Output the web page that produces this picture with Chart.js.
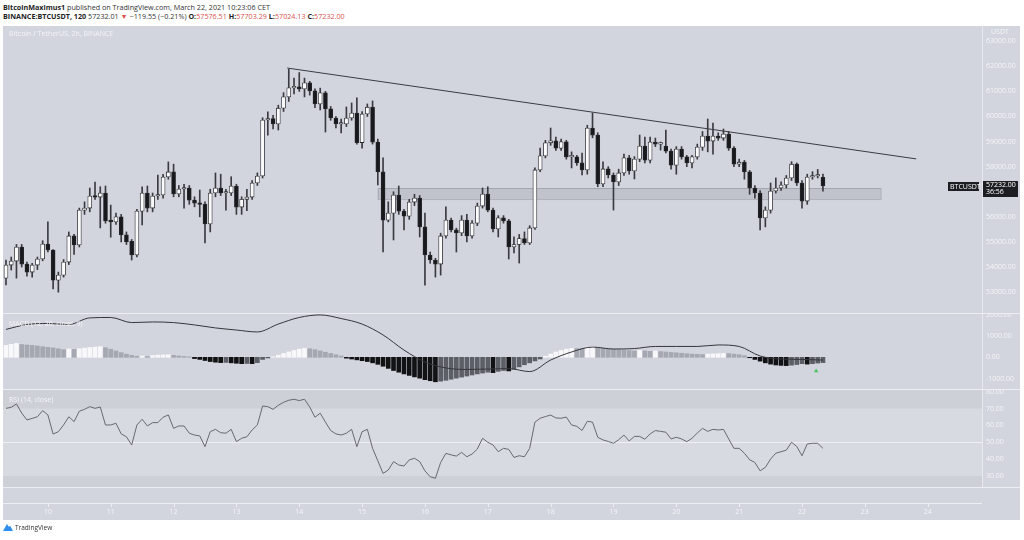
<!DOCTYPE html>
<html>
<head>
<meta charset="utf-8">
<script src="https://cdn.jsdelivr.net/npm/chart.js@4.4.1/dist/chart.umd.min.js"></script>
<style>
  body { margin: 0; width: 1024px; height: 540px; overflow: hidden; background: #fff; position: relative; font-family: 'Open Sans', sans-serif; }
  .hdr { position: absolute; left: 3px; font-size: 7.2px; color: #333; white-space: nowrap; }
  .hdr b { color: #222; }
  .red { color: #d9534f; }
  #board { position: absolute; left: 3px; top: 26px; width: 1017px; height: 494px; background: #d2d5dd; }
  #board canvas { position: absolute; left: 0; }
  .sep { position: absolute; left: 0; width: 1017px; height: 1px; background: #eceef2; }
  .lbl { position: absolute; font-size: 7px; color: #f3f4f7; white-space: nowrap; }
  #logo { position: absolute; left: 3px; top: 523px; font-size: 6.5px; color: #333; display: flex; align-items: center; gap: 2px; }
</style>
</head>
<body>
<div class="hdr" style="top:2px"><b>BitcoinMaximus1</b> published on TradingView.com, March 22, 2021 10:23:06 CET</div>
<div class="hdr" style="top:11px"><b>BINANCE:BTCUSDT, 120</b> 57232.01 <span class="red">▼</span> −119.55 (−0.21%) <b>O:</b><span class="red">57576.51</span> <b>H:</b><span class="red">57703.29</span> <b>L:</b><span class="red">57024.13</span> <b>C:</b><span class="red">57232.00</span></div>

<div id="board">
  <canvas id="price" width="1017" height="287" style="top:0"></canvas>
  <canvas id="macd" width="1017" height="76" style="top:287px"></canvas>
  <canvas id="rsi" width="1017" height="131" style="top:363px"></canvas>
  <div class="sep" style="top:287px"></div>
  <div class="sep" style="top:363px"></div>
  <div class="sep" style="top:461px"></div>
  <div class="sep" style="top:477px;width:979px"></div>
  <div class="lbl" style="left:6px;top:3px">Bitcoin / TetherUS, 2h, BINANCE</div>
  <div class="lbl" style="left:988px;top:1px">USDT</div>
  <div class="lbl" style="left:6px;top:293px">MACD (12, 26, close, 9)</div>
  <div class="lbl" style="left:6px;top:369px">RSI (14, close)</div>
</div>

<div id="logo">
  <svg width="10" height="9" viewBox="0 0 10 9"><path d="M0 8 L4 1 L6 4 L7 2.5 L10 8 Z" fill="#2d8ff0"/></svg>
  <span>TradingView</span>
</div>

<script>
// 2h candles, first one 9 Mar 08:00, last one 22 Mar 08:00
const open = [
  53560, 54080, 54240, 54800, 54120, 53800, 54080, 54320, 54920, 54680,
  53480, 53680, 54200, 55240, 54880, 56270, 56350, 56830, 56790, 56950,
  55870, 55800, 56000, 55280, 55030, 54480, 56230, 56950, 56350, 56830,
  56870, 57590, 57790, 56910, 57110, 57150, 56670, 56550, 56500, 55720,
  56950, 57150, 56950, 56950, 57230, 56390, 56700, 56790, 57350, 57630,
  59860, 59920, 59700, 60330, 60780, 61140, 61180, 61100, 61340, 61020,
  60500, 60940, 60300, 59940, 59700, 59700, 59940, 60140, 58960, 60100,
  60370, 58980, 57790, 55870, 56150, 56870, 56230, 56030, 56590, 56750,
  55600, 54480, 54280, 54120, 55240, 55870, 55480, 55360, 55870, 55240,
  55750, 56430, 56910, 56270, 55520, 55960, 55840, 54800, 54900, 55140,
  54960, 55560, 57870, 58430, 58950, 59030, 58740, 58990, 58390, 58390,
  58150, 57870, 59540, 59260, 57310, 57910, 57670, 57390, 57750, 58350,
  57830, 58300, 58820, 58260, 58980, 58900, 58820, 58620, 58060, 58700,
  58390, 58150, 58390, 58780, 59220, 59020, 59220, 59140, 59300, 58740,
  58100, 58180, 57790, 57150, 56950, 55960, 56270, 57030, 57150, 57270,
  57550, 58100, 57350, 56630, 57590, 57630, 57576.51
];
const high = [
  54280, 54400, 54900, 54900, 54200, 54150, 54400, 55050, 55800, 54700,
  53800, 54300, 55400, 55300, 56350, 56600, 57150, 57390, 57200, 57230,
  56470, 56150, 56100, 55400, 55100, 56300, 57200, 57230, 56950, 57670,
  57700, 58190, 58100, 57250, 57300, 57250, 56800, 57070, 56600, 57100,
  57750, 57700, 57100, 57600, 57300, 56800, 57100, 57450, 57750, 59950,
  60190, 60050, 60450, 60950, 61890, 61530, 61750, 61530, 61400, 61100,
  61130, 61000, 60400, 60000, 59900, 60380, 60540, 60740, 60200, 60500,
  60620, 59100, 58350, 56600, 57000, 57230, 56300, 56700, 56900, 56850,
  56150, 54600, 54350, 55350, 56400, 55950, 55550, 56050, 56100, 55850,
  56550, 57150, 57200, 56350, 56050, 56050, 55900, 55200, 55300, 55400,
  55650, 57950, 58740, 59050, 59540, 59180, 59100, 59050, 58590, 58450,
  58540, 59650, 60140, 59350, 58190, 58000, 57750, 57900, 58500, 58450,
  58400, 59260, 59180, 59180, 59140, 58980, 59460, 58700, 58800, 58800,
  58450, 58450, 58900, 59400, 59900, 59740, 59350, 59500, 59400, 58800,
  58300, 58250, 57850, 57250, 57050, 56400, 57350, 57550, 57400, 57650,
  58200, 58150, 57450, 57700, 57800, 57890, 57703.29
];
const low = [
  53290, 53880, 53560, 54000, 53640, 53600, 53900, 54250, 54600, 53130,
  53000, 53600, 54100, 54500, 54800, 56100, 56200, 56700, 55560, 55750,
  55190, 55700, 55000, 54900, 54280, 54400, 55680, 56200, 56200, 56700,
  56750, 57500, 56800, 56800, 56350, 56500, 56400, 56000, 54960, 55400,
  56800, 56850, 56270, 56850, 56100, 56100, 56250, 56700, 57250, 57550,
  59260, 59500, 59460, 60200, 60600, 60900, 61000, 60780, 60850, 60350,
  60260, 59380, 59850, 59540, 59340, 59600, 59850, 58900, 58740, 60000,
  58900, 57270, 54600, 55800, 55080, 56100, 55480, 55900, 56450, 55200,
  53280, 54150, 53600, 53680, 55150, 55400, 54600, 55250, 55000, 55150,
  55650, 56350, 56200, 55400, 55200, 55750, 54320, 54560, 54160, 54900,
  54900, 55500, 57800, 58350, 58850, 58650, 58650, 58300, 57950, 58050,
  57670, 57700, 59150, 57200, 57200, 57550, 56270, 57250, 57650, 57700,
  57510, 58200, 58150, 58150, 58800, 58660, 58550, 57900, 57700, 58300,
  58000, 57950, 58300, 58650, 58590, 58500, 59050, 59050, 58650, 58000,
  58000, 57500, 56900, 56750, 55480, 55600, 56150, 56950, 57050, 57150,
  57450, 57250, 56350, 56500, 57500, 57550, 57024.13
];
const close = [
  54080, 54240, 54800, 54120, 53800, 54080, 54320, 54920, 54680, 53480,
  53680, 54200, 55240, 54880, 56270, 56350, 56830, 56790, 56950, 55840,
  55800, 56000, 55280, 55000, 54480, 56230, 56950, 56350, 56830, 56870,
  57590, 57790, 56910, 57110, 57150, 56670, 56550, 56500, 55720, 56950,
  57150, 56950, 56960, 57230, 56390, 56700, 56790, 57350, 57630, 59860,
  59920, 59700, 60330, 60780, 61140, 61180, 61100, 61340, 61020, 60500,
  60940, 60300, 59940, 59700, 59710, 59940, 60140, 58960, 60100, 60370,
  58980, 57790, 55870, 56150, 56870, 56230, 56030, 56590, 56750, 55600,
  54480, 54280, 54120, 55240, 55870, 55480, 55360, 55870, 55240, 55750,
  56430, 56910, 56270, 55520, 55960, 55840, 54800, 54900, 55140, 54960,
  55560, 57870, 58430, 58950, 59030, 58740, 58990, 58390, 58400, 58150,
  57870, 59540, 59260, 57310, 57910, 57670, 57390, 57750, 58350, 57830,
  58300, 58820, 58260, 58980, 58900, 58910, 58620, 58060, 58700, 58390,
  58150, 58390, 58780, 59220, 59020, 59220, 59140, 59300, 58740, 58100,
  58180, 57790, 57150, 56950, 55960, 56270, 57030, 57150, 57270, 57550,
  58100, 57350, 56630, 57590, 57630, 57640, 57232.00
];

// MACD histogram, one bar per candle
const macdHist = [
   560,  610,  650,  600,  580,  560,  530,  500,  470,  440,
   400,  360,  390,  370,  400,  430,  460,  480,  500,  450,
   380,  300,  220,  150,   90,   50,   60,   40,   80,  100,
   110,  120,   90,   60,   40,   20,  -60, -100, -150, -200,
  -230, -250, -240, -260, -280, -300, -290, -300, -250, -100,
   -30,   20,  100,  180,  250,  320,  380,  420,  400,  360,
   300,  240,  180,  120,   60,  -40,  -80, -120, -160, -200,
  -260, -330, -420, -520, -620, -700, -780, -850, -920, -980,
 -1050,-1100,-1150,-1120,-1080,-1030, -980, -930, -880, -830,
  -780, -740, -700, -720, -660, -620, -640, -560, -450, -350,
  -260, -170,  -80,   50,  150,  250,  320,  380,  420,  410,
   400,  480,  500,  450,  420,  400,  380,  360,  340,  320,
   300,  320,  300,  280,  300,  270,  250,  230,  210,  190,
   170,  150,  140,  130,  150,  160,  170,  180,  175,  150,
   120,   80,  -20, -100, -180, -260, -320, -360, -380, -390,
  -370, -340, -300, -320, -300, -270, -250
];
// MACD line, read every 4th candle
const macdLineStep = 4;
const macdLine = [
  1310, 1540, 1590, 1540, 1850, 1870, 1630, 1660, 1630, 1520,
  1380, 1280, 1190, 1560, 1870, 1990, 1820, 1560, 1050,  340,
  -220, -500, -570, -550, -530, -670, -130,  250,  480,  390,
   410,  510,  510,  510,  580,  510,   60,  -80, -100, -130
];
const rsi = [
  70.2, 70.8, 72.8, 67.4, 63.3, 64.2, 65.2, 68.8, 66.3, 54.9,
  56.3, 60.3, 65.2, 62.3, 68.5, 69.6, 71.2, 70.2, 71.0, 60.3,
  60.3, 61.3, 55.0, 53.3, 48.4, 60.3, 63.7, 59.7, 61.7, 61.7,
  64.9, 66.3, 58.3, 59.7, 59.7, 55.4, 54.3, 53.8, 47.4, 56.3,
  57.7, 55.7, 55.4, 57.7, 50.4, 52.4, 53.3, 57.3, 60.3, 71.6,
  71.2, 69.6, 72.0, 73.8, 75.0, 75.6, 74.8, 75.6, 71.0, 64.9,
  67.3, 62.0, 57.0, 55.0, 54.3, 55.4, 57.7, 47.4, 56.3, 57.7,
  46.4, 39.0, 31.5, 33.5, 38.5, 36.5, 35.9, 39.5, 40.5, 38.5,
  33.0, 29.5, 28.6, 38.0, 43.4, 42.5, 41.8, 44.0, 41.4, 43.0,
  46.0, 52.4, 50.0, 48.4, 44.4, 46.4, 45.8, 41.0, 42.0, 41.4,
  46.4, 62.0, 64.3, 65.3, 66.2, 64.5, 64.3, 65.0, 60.3, 59.5,
  57.0, 62.5, 62.0, 53.0, 51.4, 50.5, 49.4, 51.5, 54.3, 50.8,
  53.5, 53.5, 51.8, 55.0, 57.0, 56.5, 56.0, 52.0, 53.0, 52.0,
  50.4, 52.4, 55.5, 58.3, 56.5, 57.7, 57.3, 57.7, 52.0, 46.4,
  46.4, 43.5, 39.6, 38.0, 33.0, 35.1, 40.0, 43.5, 44.4, 45.3,
  50.0, 47.5, 42.0, 49.0, 49.4, 49.4, 46.4
];

// axis ticks
const priceTicks = [53000, 54000, 55000, 56000, 57000, 58000, 59000, 60000, 61000, 62000, 63000];
const macdTicks = [-1000, 0, 1000, 2000];
const rsiTicks = [30, 40, 50, 60, 70, 80];
// time axis: day of month labels, first candle at 08:00 so midnight is 8 candles later
const dayLabels = ['10', '11', '12', '13', '14', '15', '16', '17', '18', '19', '20', '21', '22', '23', '24'];
const firstDayIdx = 8;
const candlesPerDay = 12;

// drawings: trend line [candle idx, price], support zone
const trendStart = [53.7, 61930];
const trendEnd = [173.8, 58310];
const zoneIdx = [71, 167];
const zonePrice = [56710, 57150];
const alertMark = [154.7, -640];

const X_MIN = -0.57, X_MAX = 186.37;
const AXIS_W = 38;
const txtColor = '#f3f4f7';
const font = { family: 'Open Sans', size: 7 };

// no label padding pushed into the layout, so the plot fills each pane
function noPad(s) {
  s.paddingTop = 0; s.paddingBottom = 0; s.paddingLeft = 0; s.paddingRight = 0;
}
function rightAxis(min, max, tickVals) {
  return {
    position: 'right', min: min, max: max,
    afterFit: s => { s.width = AXIS_W; noPad(s); },
    afterBuildTicks: s => { s.ticks = tickVals.map(v => ({ value: v })); },
    grid: { display: false, drawTicks: false },
    border: { display: true, color: '#e8e9ee' },
    ticks: { color: txtColor, font: font, padding: 4, callback: v => v.toFixed(2) }
  };
}
function hiddenX() {
  return { type: 'linear', min: X_MIN, max: X_MAX, offset: false, display: false };
}
const baseOpts = {
  responsive: false, animation: false, events: [],
  layout: { padding: 0, autoPadding: false },
  plugins: { legend: { display: false }, tooltip: { enabled: false } }
};

const idx = close.map((_, i) => i);

// ---------- price pane ----------
const zonePlugin = {
  id: 'zone',
  beforeDatasetsDraw(chart) {
    const { ctx, scales: { x, y } } = chart;
    const x0 = x.getPixelForValue(zoneIdx[0]), x1 = x.getPixelForValue(zoneIdx[1]);
    const y0 = y.getPixelForValue(zonePrice[1]), y1 = y.getPixelForValue(zonePrice[0]);
    ctx.save();
    ctx.fillStyle = 'rgba(120,126,138,0.2)';
    ctx.fillRect(x0, y0, x1 - x0, y1 - y0);
    ctx.strokeStyle = 'rgba(110,116,128,0.35)';
    ctx.lineWidth = 1;
    ctx.strokeRect(x0 + 0.5, y0 + 0.5, x1 - x0, y1 - y0);
    ctx.restore();
  },
  afterDraw(chart) {
    const { ctx, chartArea: ca, scales: { y } } = chart;
    const last = close[close.length - 1];
    const py = Math.round(y.getPixelForValue(last));
    ctx.save();
    ctx.fillStyle = '#1d1e22';
    ctx.fillRect(ca.right + 1, py - 5, 35, 16);
    ctx.fillRect(ca.right - 34, py - 4, 31, 9);
    ctx.fillStyle = '#ffffff';
    ctx.font = '7px "Open Sans"';
    ctx.textBaseline = 'middle';
    ctx.fillText(last.toFixed(2), ca.right + 4, py - 1);
    ctx.fillText('36:56', ca.right + 4, py + 6);
    ctx.fillText('BTCUSDT', ca.right - 32, py + 0.5);
    ctx.restore();
  }
};

new Chart(document.getElementById('price'), {
  type: 'bar',
  data: {
    datasets: [
      {
        type: 'line', order: 0,
        data: [{ x: trendStart[0], y: trendStart[1] }, { x: trendEnd[0], y: trendEnd[1] }],
        borderColor: '#3a3c42', borderWidth: 1, pointRadius: 0
      },
      {
        order: 1, grouped: false, barThickness: 4, minBarLength: 1.5,
        data: idx.map(i => ({ x: i, y: [open[i], close[i]] })),
        backgroundColor: idx.map(i => close[i] >= open[i] ? '#fbfbfc' : '#18191c'),
        borderColor: '#2a2b2f', borderWidth: 0.8, borderSkipped: false
      },
      {
        order: 2, grouped: false, barThickness: 1,
        data: idx.map(i => ({ x: i, y: [low[i], high[i]] })),
        backgroundColor: '#3b3c41'
      }
    ]
  },
  options: Object.assign({}, baseOpts, {
    scales: { x: hiddenX(), y: rightAxis(52170, 63605, priceTicks) }
  }),
  plugins: [zonePlugin]
});

// ---------- MACD pane ----------
const histColors = macdHist.map((v, i) => {
  const prev = i > 0 ? macdHist[i - 1] : v;
  if (v >= 0) return v >= prev ? '#f8f8fa' : '#a5a8b0';
  return v > prev ? '#5d5f66' : '#111214';
});

new Chart(document.getElementById('macd'), {
  type: 'bar',
  data: {
    datasets: [
      {
        type: 'scatter', order: 0,
        data: [{ x: alertMark[0], y: alertMark[1] }],
        pointStyle: 'triangle', pointRadius: 2.5, backgroundColor: '#43c65a', borderWidth: 0
      },
      {
        type: 'line', order: 1,
        data: macdLine.map((v, k) => ({ x: k * macdLineStep, y: v })),
        borderColor: '#34363b', borderWidth: 1, pointRadius: 0, cubicInterpolationMode: 'monotone'
      },
      {
        order: 2, grouped: false, barThickness: 4,
        data: idx.map(i => ({ x: i, y: macdHist[i] })),
        backgroundColor: histColors
      }
    ]
  },
  options: Object.assign({}, baseOpts, {
    scales: { x: hiddenX(), y: rightAxis(-1488, 2080, macdTicks) }
  })
});

// ---------- RSI pane ----------
const bandPlugin = {
  id: 'band',
  beforeDatasetsDraw(chart) {
    const { ctx, chartArea: ca, scales: { y } } = chart;
    const y70 = y.getPixelForValue(70), y30 = y.getPixelForValue(30), y50 = y.getPixelForValue(50);
    ctx.save();
    ctx.fillStyle = 'rgba(0,0,0,0.025)';
    ctx.fillRect(ca.left, ca.top, ca.width, y70 - ca.top);
    ctx.fillRect(ca.left, y30, ca.width, ca.bottom - y30);
    ctx.fillStyle = 'rgba(255,255,255,0.12)';
    ctx.fillRect(ca.left, y70, ca.width, y30 - y70);
    ctx.strokeStyle = '#eef0f3';
    ctx.lineWidth = 1.2;
    ctx.beginPath();
    ctx.moveTo(ca.left, Math.round(y50) + 0.5);
    ctx.lineTo(ca.right, Math.round(y50) + 0.5);
    ctx.stroke();
    ctx.restore();
  },
  afterDraw(chart) {
    // small tick marks on the time axis line
    const { ctx, scales: { x } } = chart;
    ctx.save();
    ctx.strokeStyle = '#eceef2';
    ctx.lineWidth = 1;
    x.ticks.forEach(t => {
      const px = Math.round(x.getPixelForValue(t.value)) + 0.5;
      ctx.beginPath();
      ctx.moveTo(px, 114);
      ctx.lineTo(px, 118);
      ctx.stroke();
    });
    ctx.restore();
  }
};

new Chart(document.getElementById('rsi'), {
  type: 'line',
  data: {
    datasets: [{
      data: idx.map(i => ({ x: i, y: rsi[i] })),
      borderColor: '#67696f', borderWidth: 1, pointRadius: 0
    }]
  },
  options: Object.assign({}, baseOpts, {
    scales: {
      x: {
        type: 'linear', min: X_MIN, max: X_MAX, offset: false,
        afterFit: s => { s.height = 33; noPad(s); },
        afterBuildTicks: s => { s.ticks = dayLabels.map((_, k) => ({ value: firstDayIdx + k * candlesPerDay })); },
        grid: { display: false, drawTicks: false },
        border: { display: false },
        ticks: {
          color: txtColor, font: font, padding: 21, maxRotation: 0, autoSkip: false,
          callback: v => dayLabels[Math.round((v - firstDayIdx) / candlesPerDay)]
        }
      },
      y: rightAxis(23.4, 81.7, rsiTicks)
    }
  }),
  plugins: [bandPlugin]
});
</script>
</body>
</html>
